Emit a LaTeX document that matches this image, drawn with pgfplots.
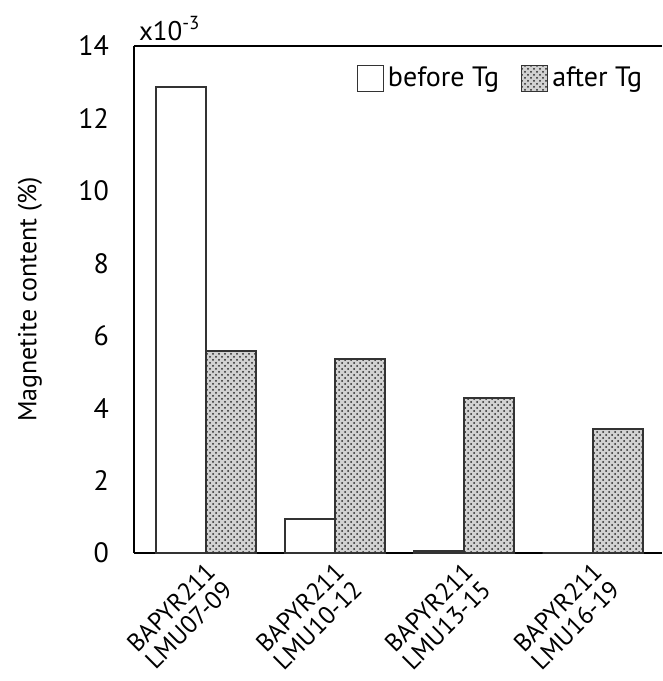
\documentclass[border=0pt]{standalone}
\usepackage{fontspec}
\setmainfont{PT Sans}
\usepackage{pgfplots}
\pgfplotsset{compat=1.18}
\usetikzlibrary{patterns}
\begin{document}
\begin{tikzpicture}
\begin{axis}[
  scale only axis, width=264pt, height=253.5pt,
  xmin=-0.56, xmax=3.535, ymin=0, ymax=14,
  axis lines=left, axis line style={-, line width=0.8pt},
  ytick={0,2,...,14},
  xtick={0,1,2,3},
  xticklabels={{BAPYR211\\LMU07-09},{BAPYR211\\LMU10-12},{BAPYR211\\LMU13-15},{BAPYR211\\LMU16-19}},
  major tick length=0pt,
  /pgf/number format/assume math mode=true,
  yticklabel style={font=\fontsize{14}{16}\selectfont, xshift=-9pt},
  xticklabel style={font=\fontsize{12.5}{12.5}\selectfont, xshift=-1pt, yshift=-2.5pt, rotate=45, anchor=north east, align=center, inner sep=1pt},
  ylabel={Magnetite content (\%)},
  every axis y label/.style={at={(rel axis cs:0,0.5)}, xshift=-52pt, rotate=90, anchor=center, font=\fontsize{13}{15}\selectfont},
  legend style={at={(rel axis cs:0.982,0.975)}, anchor=north east, draw=none, fill=none,
    legend columns=2, font=\fontsize{14}{16}\selectfont,
    /tikz/every even column/.append style={column sep=9pt}},
  legend image code/.code={\draw[#1, line width=0.6pt] (0pt,-6.5pt) rectangle (13pt,6.5pt);},
  extra description/.code={
    \draw[line width=0.8pt] (rel axis cs:0,1) -- (rel axis cs:1,1);
    \node[anchor=south west, font=\fontsize{13.5}{15}\selectfont, inner sep=1pt] at (rel axis cs:0.005,1.006) {x10\textsuperscript{-3}};
    \path (rel axis cs:0,1) ++(-67pt,23pt);
    \path (rel axis cs:0,0) ++(0pt,-64pt);
  },
]
\addplot[ybar, bar width=0.39, draw=black!80, line width=1pt, fill=white]
  coordinates {(-0.195,12.86) (0.805,0.93) (1.805,0.05) (2.805,0)};
\addlegendentry{before Tg}
\addplot[ybar, bar width=0.39, draw=black!80, line width=1pt, fill=gray!35,
  postaction={pattern=crosshatch dots, pattern color=black!85}]
  coordinates {(0.195,5.59) (1.195,5.35) (2.195,4.27) (3.195,3.42)};
\addlegendentry{after Tg}
\end{axis}
\end{tikzpicture}
\end{document}
